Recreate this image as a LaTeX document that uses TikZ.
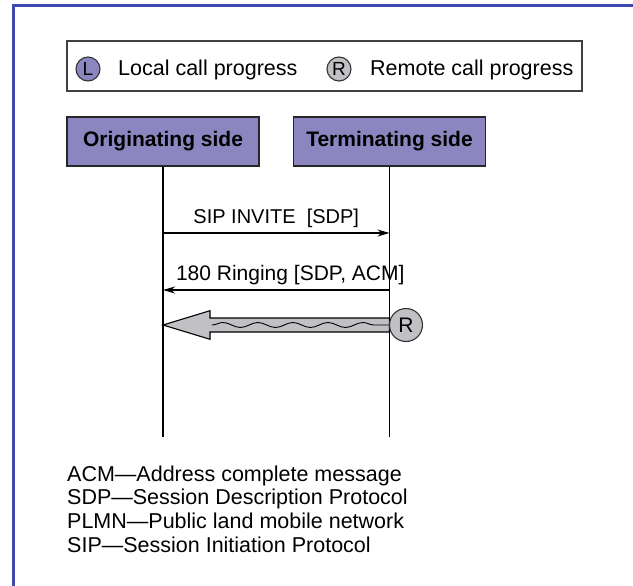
\documentclass[tikz,border=0pt]{standalone}
\usepackage{fontspec}
\setmainfont{Liberation Sans}
\usetikzlibrary{arrows.meta,decorations.pathmorphing}
\definecolor{frameblue}{RGB}{64,72,178}
\definecolor{sidepurple}{RGB}{139,133,192}
\definecolor{remotegray}{RGB}{192,192,197}
\tikzset{
  sidebox/.style={draw=black!85,line width=1.2pt,fill=sidepurple,minimum width=192pt,minimum height=49pt,inner sep=0pt,font=\fontsize{21}{24}\selectfont\bfseries},
  progcirc/.style={circle,draw=black!80,line width=1.1pt,inner sep=0pt,minimum size=24pt,font=\fontsize{19}{22}\selectfont},
  lifeline/.style={line width=1.8pt},
  msg/.style={line width=1.2pt,-{Stealth[length=12pt,width=7pt]}},
  msglabel/.style={inner sep=0pt,font=\fontsize{20}{24}\selectfont},
  plaintext/.style={inner sep=0pt,font=\fontsize{21.5}{24}\selectfont},
}
\begin{document}
\begin{tikzpicture}[x=1pt,y=-1pt]
	\useasboundingbox (0,0) rectangle (633,586);
	\draw[frameblue,line width=3pt] (13.5,586) -- (13.5,5.7) -- (633,5.7);
	% legend
	\draw[black!75,line width=1.5pt] (67,41) rectangle (582,91);
	\node[progcirc,fill=sidepurple] (keyL) at (88,69) {L};
	\node[plaintext,anchor=base west] (keyLtxt) at (118,76) {Local call progress};
	\node[progcirc,fill=remotegray] (keyR) at (339,69) {R};
	\node[plaintext,anchor=base west] (keyRtxt) at (370,76) {Remote call progress};
	% sides and lifelines
	\node[sidebox] (orig) at (163,141.5) {Originating side};
	\node[sidebox] (term) at (389.5,141.5) {Terminating side};
	\coordinate (origend) at (163,437);
	\coordinate (termend) at (389.5,437);
	\draw[lifeline] (orig.south) -- (origend);
	\draw[lifeline] (term.south) -- (termend);
	% messages
	\coordinate (invA) at (163,233);
	\coordinate (invB) at (389.5,233);
	\coordinate (ringA) at (389.5,290);
	\coordinate (ringB) at (163,290);
	\draw[msg] (invA) -- node[msglabel,above=5pt] {SIP INVITE\ \ [SDP]} (invB);
	\draw[msg] (ringA) -- node[msglabel,above=4.5pt,xshift=14pt,font=\fontsize{21}{24}\selectfont] {180 Ringing [SDP, ACM]} (ringB);
	% remote call progress
	\coordinate (bigtip) at (163,325);
	\coordinate (bigend) at (389.5,325);
	\draw[fill=remotegray,line width=1.1pt] (bigtip) -- (210,310.7) -- (210,318) -- (bigend |- 0,318) -- (bigend |- 0,332) -- (210,332) -- (210,339.3) -- cycle;
	\draw[line width=0.9pt,decorate,decoration={snake,amplitude=2.5pt,segment length=35pt}] (212,325) -- (bigend);
	\node[progcirc,fill=remotegray,minimum size=33pt,font=\fontsize{21}{24}\selectfont] (remR) at (406,325) {R};
	% abbreviations
	\foreach \abbr [count=\i] in {ACM—Address complete message,SDP—Session Description Protocol,PLMN—Public land mobile network,SIP—Session Initiation Protocol}
		\node[plaintext,anchor=base west] (abbr\i) at (67,{481+(\i-1)*23.7}) {\abbr};
\end{tikzpicture}
\end{document}
